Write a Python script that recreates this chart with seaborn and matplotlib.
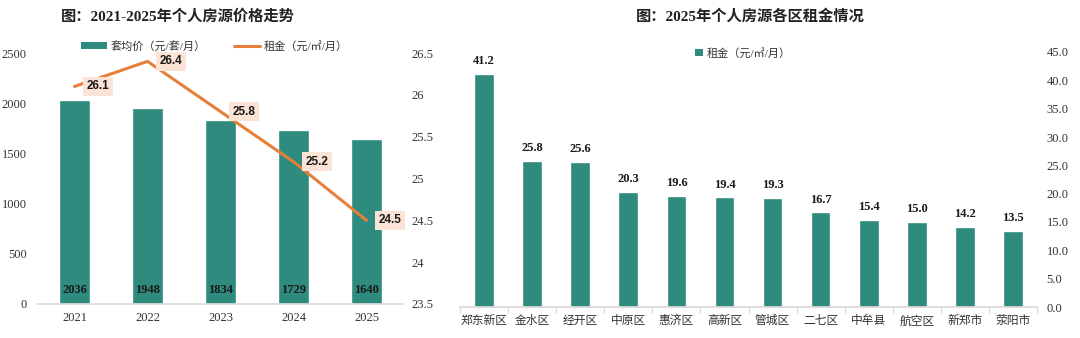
import numpy as np
import pandas as pd
import matplotlib
matplotlib.use("Agg")
import matplotlib.pyplot as plt
import seaborn as sns
from matplotlib.lines import Line2D
from matplotlib.patches import Patch

sns.set_theme(style="white")
plt.rcParams['font.family'] = ['Liberation Serif', 'Noto Sans CJK SC', 'DejaVu Sans']

# ---- data ----
years = ["2021", "2022", "2023", "2024", "2025"]
avg_price = [2036, 1948, 1834, 1729, 1640]
rent_trend = [26.1, 26.4, 25.8, 25.2, 24.5]

districts = ["郑东新区", "金水区", "经开区", "中原区", "惠济区", "高新区",
             "管城区", "二七区", "中牟县", "航空区", "新郑市", "荥阳市"]
district_rent = [41.2, 25.8, 25.6, 20.3, 19.6, 19.4, 19.3, 16.7, 15.4, 15.0, 14.2, 13.5]

left_title = "图：2021-2025年个人房源价格走势"
right_title = "图：2025年个人房源各区租金情况"
price_label = "套均价（元/套/月）"
rent_label = "租金（元/㎡/月）"

TEAL = "#2E8B7E"
ORANGE = "#E5803A"
BOXC = "#FBE3D6"
GRID = "#D9D9D9"
TXT = "#333333"
TICK_FS = 9

fig = plt.figure(figsize=(10.8, 3.38), dpi=100)

# ================= left chart =================
axL = fig.add_axes([38/1080, 34/338, 365/1080, 251/338])
dfL = pd.DataFrame({"year": years, "price": avg_price, "rent": rent_trend,
                    "pos": np.arange(len(years))})
sns.barplot(data=dfL, x="year", y="price", color=TEAL, saturation=1,
            width=0.42, ax=axL)
axL.set_ylim(0, 2500)
axL.set_xlim(-0.5, len(years) - 0.5)
axL.set_yticks(np.arange(0, 2501, 500))
axL.set_xlabel("")
axL.set_ylabel("")
for s in ["top", "left", "right"]:
    axL.spines[s].set_visible(False)
axL.spines["bottom"].set_color(GRID)
axL.tick_params(axis="y", length=0, pad=8, labelsize=TICK_FS, labelcolor=TXT)
axL.tick_params(axis="x", length=0, pad=6, labelsize=TICK_FS, labelcolor=TXT)
for i, v in enumerate(avg_price):
    axL.annotate(str(v), xy=(i, 0), xytext=(0, 10), textcoords="offset points",
                 ha="center", va="center", fontsize=9, fontweight="bold",
                 color="#1a1a1a")

axR2 = axL.twinx()
sns.lineplot(data=dfL, x="pos", y="rent", color=ORANGE, linewidth=2.2, ax=axR2)
axR2.set_ylim(23.5, 26.5)
axR2.set_yticks(np.arange(23.5, 26.51, 0.5))
axR2.set_yticklabels([f"{t:g}" for t in np.arange(23.5, 26.51, 0.5)])
axR2.set_xlim(-0.5, len(years) - 0.5)
axR2.set_xlabel("")
axR2.set_ylabel("")
for s in ["top", "left", "right", "bottom"]:
    axR2.spines[s].set_visible(False)
axR2.tick_params(axis="y", length=0, pad=6, labelsize=TICK_FS, labelcolor=TXT)
for i, v in enumerate(rent_trend):
    axR2.annotate(f"{v:.1f}", xy=(i, v), xytext=(9, 0), textcoords="offset points",
                  ha="left", va="center", fontsize=8.5, fontweight="bold",
                  family="Liberation Sans", color="#1a1a1a",
                  bbox=dict(boxstyle="square,pad=0.3", fc=BOXC, ec="none"))

handles = [Patch(facecolor=TEAL, edgecolor="none"),
           Line2D([0], [0], color=ORANGE, linewidth=2.2)]
axL.legend(handles, [price_label, rent_label], loc="center",
           bbox_to_anchor=(0.483, 1.028), ncol=2, frameon=False, fontsize=8,
           handlelength=2.4, handleheight=0.6, columnspacing=2.5, handletextpad=0.3,
           labelcolor=TXT)
fig.text(178/1080, 1 - 16/338, left_title, ha="center", va="center",
         fontsize=11, fontweight="bold", color="#222222")

# ================= right chart =================
axB = fig.add_axes([460/1080, 31/338, 577/1080, 255/338])
dfR = pd.DataFrame({"district": districts, "rent": district_rent})
sns.barplot(data=dfR, x="district", y="rent", color=TEAL, saturation=1,
            width=0.41, ax=axB)
axB.set_ylim(0, 45)
axB.set_xlim(-0.5, len(districts) - 0.5)
axB.set_yticks(np.arange(0, 45.01, 5))
axB.set_yticklabels([f"{t:.1f}" for t in np.arange(0, 45.01, 5)])
axB.yaxis.tick_right()
axB.set_xlabel("")
axB.set_ylabel("")
for s in ["top", "left", "right"]:
    axB.spines[s].set_visible(False)
axB.spines["bottom"].set_color(GRID)
axB.tick_params(axis="y", length=0, pad=7, labelsize=TICK_FS, labelcolor=TXT)
axB.tick_params(axis="x", which="major", length=0, pad=6, labelsize=8.5, labelcolor=TXT)
axB.set_xticks(np.arange(-0.5, len(districts), 1.0), minor=True)
axB.tick_params(axis="x", which="minor", length=4, width=0.8, color=GRID, bottom=True)
for i, v in enumerate(district_rent):
    axB.annotate(f"{v:.1f}", xy=(i, v), xytext=(0, 9), textcoords="offset points",
                 ha="center", va="center", fontsize=9, fontweight="bold",
                 color="#1a1a1a")
axB.legend([Patch(facecolor=TEAL, edgecolor="none")], [rent_label], loc="center",
           bbox_to_anchor=(0.49, 0.996), frameon=False, fontsize=8,
           handlelength=0.7, handleheight=0.7, handletextpad=0.3, labelcolor=TXT)
fig.text(750/1080, 1 - 16/338, right_title, ha="center", va="center",
         fontsize=11, fontweight="bold", color="#222222")

fig.savefig("out.png", dpi=100)
